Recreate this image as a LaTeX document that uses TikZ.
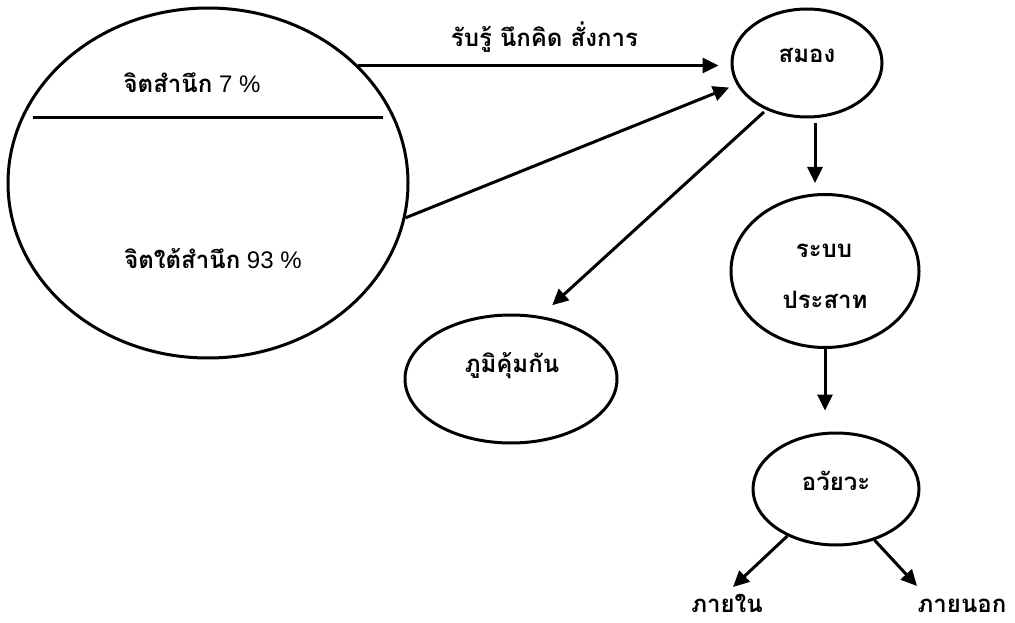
\documentclass[tikz,border=0pt]{standalone}
\usepackage{fontspec}
\setmainfont{Liberation Sans}
\newfontfamily\thai[Script=Thai]{Loma}
\usetikzlibrary{arrows.meta,shapes.geometric}
\newcommand{\thtxt}[1]{{\thai\bfseries #1}}
\tikzset{
  oval/.style={draw,ellipse,line width=3pt,inner sep=0pt},
  arr/.style={line width=3pt,-{Triangle[length=16pt,width=15pt]}},
  lbl/.style={anchor=base,inner sep=0pt,font=\fontsize{24}{28}\selectfont}
}
\begin{document}
\begin{tikzpicture}[x=1pt,y=-1pt]
\useasboundingbox (0,0) rectangle (1015,623);
% big mind ellipse
\node[oval,minimum width=400pt,minimum height=350pt] (mind) at (208,183) {};
\coordinate (divL) at (33,118);
\coordinate (divR) at (383,118);
\draw[line width=3pt] (divL) -- (divR);
\node[lbl] (conscious) at (192,93) {\thtxt{จิตสำนึก} 7 \%};
\node[lbl] (subcon) at (213,268) {\thtxt{จิตใต้สำนึก} 93 \%};
% brain
\node[oval,minimum width=150pt,minimum height=108pt] (brain) at (807,63) {};
\node[lbl] (brainT) at (807,63) {\thtxt{สมอง}};
% nervous system
\node[oval,minimum width=188pt,minimum height=153pt] (nerve) at (825,271) {};
\node[lbl] (nerveT1) at (824,257) {\thtxt{ระบบ}};
\node[lbl] (nerveT2) at (825,308) {\thtxt{ประสาท}};
% organ
\node[oval,minimum width=166pt,minimum height=112pt] (organ) at (836,489) {};
\node[lbl] (organT) at (836,490) {\thtxt{อวัยวะ}};
% immunity
\node[oval,minimum width=212pt,minimum height=128pt] (immune) at (511,379) {};
\node[lbl] (immuneT) at (512,372) {\thtxt{ภูมิคุ้มกัน}};
% inner / outer
\node[lbl] (inner) at (727,612) {\thtxt{ภายใน}};
\node[lbl] (outer) at (962,612) {\thtxt{ภายนอก}};
\coordinate (tipIn) at (733,587);
\coordinate (tipOut) at (917,586);
% connectors
\draw[arr,shorten >=12pt] (mind.38) -- node[lbl,above=19pt,anchor=base] (perceive) {\thtxt{รับรู้ นึกคิด สั่งการ}} (brain.west |- mind.38);
\draw[arr,shorten >=8pt] (mind.-10) -- (brain.197);
\draw[arr,shorten <=3pt,shorten >=16pt] (brain.229) -- (immune.65);
\draw[arr] ([xshift=8pt,yshift=-5pt]brain.south) -- ([xshift=8pt,yshift=10pt]brain.south |- nerve.north);
\draw[arr,shorten >=21pt] (nerve.south) -- (nerve.south |- organ.north);
\draw[arr] (organ.224) -- (tipIn);
\draw[arr] (organ.-53) -- (tipOut);
\end{tikzpicture}
\end{document}
